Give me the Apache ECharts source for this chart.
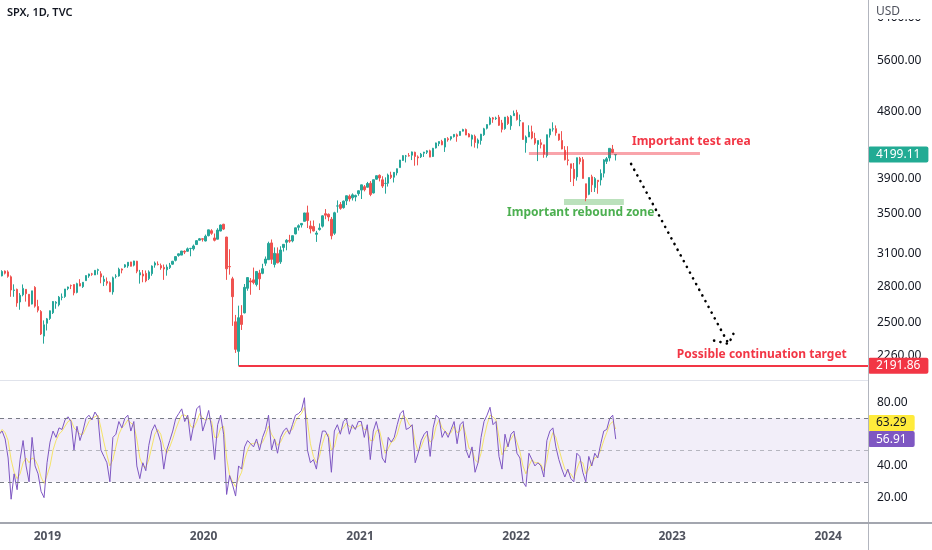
<!DOCTYPE html>
<html>
<head>
<meta charset="utf-8">
<title>SPX, 1D, TVC</title>
<script src="https://cdn.jsdelivr.net/npm/echarts@6/dist/echarts.min.js"></script>
<style>
  html, body { margin: 0; padding: 0; background: #ffffff; }
  #main { width: 932px; height: 550px; }
</style>
</head>
<body>
<div id="main"></div>
<script>
// weekly bars of SPX [open, high, low, close], first week starts monday 2018-09-10
var ohlc2018 = [
  [2871,2909,2864,2904],[2890,2941,2886,2930],[2933,2939,2903,2914],[2926,2940,2874,2886],
  [2882,2894,2710,2767],[2763,2816,2710,2768],[2773,2779,2628,2659],[2667,2741,2604,2723],
  [2727,2815,2714,2781],[2773,2775,2670,2736],[2731,2732,2631,2633],[2650,2760,2647,2760],
  [2790,2800,2621,2633],[2630,2685,2583,2600],[2590,2601,2409,2417],[2401,2520,2346,2486],
  [2498,2539,2443,2532]
];
var ohlc2019 = [
  [2535,2598,2524,2596],[2580,2675,2570,2671],[2657,2674,2612,2665],[2644,2717,2631,2707],
  [2706,2738,2681,2708],[2712,2776,2701,2776],[2780,2796,2766,2793],[2805,2814,2775,2804],
  [2814,2816,2722,2743],[2747,2830,2739,2822],[2823,2861,2800,2801],[2796,2836,2785,2834],
  [2848,2894,2848,2893],[2889,2910,2873,2907],[2908,2917,2891,2905],[2898,2940,2898,2940],[2940,2955,2901,2946],
  [2909,2932,2825,2881],[2841,2892,2801,2860],[2841,2876,2805,2826],[2830,2841,2750,2752],
  [2751,2884,2728,2873],[2886,2905,2868,2887],[2889,2964,2883,2950],[2952,2957,2913,2942],
  [2971,2996,2963,2990],[2980,3014,2963,3014],[3017,3018,2976,2977],[2987,3028,2976,3026],[3024,3027,2914,2932],
  [2898,2944,2822,2919],[2907,2943,2834,2889],[2913,2939,2834,2847],[2866,2940,2853,2926],
  [2910,2985,2891,2979],[2988,3021,2964,3007],[2996,3022,2985,2992],[2983,3002,2945,2962],[2967,2993,2855,2952],
  [2945,2993,2892,2970],[2965,3008,2952,2986],[2996,3027,2991,3023],[3032,3067,3022,3067],
  [3078,3097,3066,3093],[3081,3121,3081,3120],[3118,3127,3091,3110],[3118,3154,3115,3141],
  [3144,3150,3070,3146],[3141,3183,3125,3169],[3183,3226,3183,3221],[3226,3248,3223,3240],[3240,3246,3212,3235]
];
var ohlc2020 = [
  [3218,3282,3214,3265],[3271,3329,3264,3330],[3321,3337,3280,3295],[3248,3293,3214,3225],
  [3236,3347,3234,3328],[3318,3385,3316,3380],[3388,3393,3328,3338],[3257,3260,2855,2954],
  [2975,3137,2901,2972],[2864,2882,2478,2711],[2509,2563,2280,2305],[2291,2637,2191.86,2541],[2558,2641,2447,2489],
  [2579,2819,2575,2790],[2782,2880,2761,2875],[2846,2871,2727,2837],[2855,2965,2816,2831],
  [2815,2932,2798,2930],[2915,2945,2767,2864],[2913,3000,2905,2955],[3005,3068,2981,3044],
  [3038,3211,3038,3194],[3199,3233,2999,3041],[2994,3155,2966,3098],[3095,3155,3004,3009],[3018,3166,2999,3130],
  [3155,3186,3115,3185],[3205,3236,3127,3225],[3224,3280,3200,3216],[3219,3272,3205,3271],
  [3289,3352,3284,3351],[3356,3387,3323,3373],[3381,3399,3354,3397],[3419,3509,3419,3508],[3509,3588,3349,3427],
  [3371,3425,3294,3341],[3364,3428,3313,3319],[3285,3320,3209,3298],[3333,3397,3323,3348],
  [3368,3482,3354,3477],[3500,3550,3441,3484],[3494,3502,3420,3465],[3441,3465,3234,3270],
  [3296,3521,3279,3510],[3583,3646,3511,3585],[3600,3628,3543,3558],[3566,3644,3555,3638],[3641,3700,3594,3699],
  [3694,3713,3633,3663],[3675,3726,3645,3709],[3685,3711,3636,3703],[3723,3760,3699,3756]
];
var ohlc2021 = [
  [3764,3827,3662,3825],[3803,3823,3749,3768],[3797,3860,3794,3841],[3844,3870,3694,3714],
  [3731,3887,3725,3886],[3892,3937,3885,3934],[3939,3950,3866,3907],[3885,3928,3789,3811],
  [3842,3914,3723,3842],[3844,3960,3805,3943],[3942,3983,3894,3913],[3916,3978,3853,3975],[3969,4021,3938,4020],
  [4034,4130,4034,4129],[4124,4191,4118,4185],[4179,4194,4098,4180],[4185,4218,4173,4181],
  [4191,4238,4128,4233],[4229,4236,4057,4174],[4169,4188,4062,4156],[4170,4220,4155,4204],[4217,4234,4168,4230],
  [4229,4255,4206,4247],[4248,4262,4165,4166],[4174,4286,4167,4281],[4285,4356,4278,4352],
  [4343,4372,4309,4370],[4373,4394,4322,4327],[4297,4415,4233,4412],[4409,4430,4369,4395],
  [4406,4441,4384,4437],[4437,4469,4425,4468],[4462,4480,4368,4442],[4454,4510,4450,4509],[4513,4546,4509,4535],
  [4535,4549,4458,4459],[4474,4487,4429,4433],[4403,4466,4306,4455],[4442,4465,4289,4357],
  [4348,4412,4279,4391],[4385,4475,4329,4471],[4463,4559,4447,4545],[4553,4608,4537,4605],
  [4610,4718,4595,4697],[4701,4714,4630,4683],[4689,4718,4672,4698],[4712,4744,4586,4595],[4628,4672,4495,4538],
  [4548,4713,4532,4712],[4710,4731,4600,4620],[4588,4740,4531,4725],[4733,4808,4733,4766]
];
var ohlc2022 = [
  [4778,4819,4662,4677],[4655,4749,4582,4663],[4632,4632,4395,4398],[4356,4453,4223,4432],[4432,4595,4431,4500],
  [4505,4590,4401,4419],[4412,4490,4327,4349],[4332,4385,4115,4385],[4354,4402,4279,4329],
  [4327,4327,4157,4204],[4188,4465,4161,4463],[4462,4546,4424,4543],[4541,4637,4507,4546],
  [4547,4593,4450,4488],[4474,4474,4381,4393],[4385,4513,4267,4272],[4256,4309,4124,4132],
  [4131,4308,4062,4123],[4081,4081,3859,4024],[4013,4091,3811,3901],[3920,4160,3875,4158],[4152,4169,4074,4109],
  [4134,4168,3900,3901],[3838,3838,3637,3675],[3715,3913,3705,3912],[3921,3946,3741,3825],
  [3793,3918,3742,3899],[3880,3880,3722,3863],[3883,4012,3818,3962],[3965,4140,3913,4130],
  [4112,4167,4079,4145],[4155,4280,4112,4280],[4269,4325,4218,4228],[4195,4203,4123,4199.11]
];

// RSI(14) and its moving average, one reading per week
var rsi2018 = [60,62,57,45,19,35,25,44,56,40,30,58,40,35,24,20,42];
var rsi2019 = [55,62,58,64, 63,69,71,68, 50,65,56,62, 70,72,69,74,71, 50,46,42,30, 58,60,68,64,
  70,72,62,68,40, 32,42,37,53, 62,66,61,55,38, 50,56,62,70, 73,76,68,72, 56,66,76,78,62];
var rsi2020 = [68,75,64,44, 66,72,60,22, 34,28,21,40,38, 52,56,54,52, 57,50,58,63, 72,50,57,48,58,
  62,64,60,66, 72,73,75,83,50, 42,44,38,52, 62,62,58,36, 62,66,60,68,70, 60,66,63,68];
var rsi2021 = [68,58,66,44, 62,68,60,45, 42,58,55,58,66, 73,75,63,64, 66,42,48,56,60, 62,46,64,72,
  70,58,62,58, 63,68,54,66,68, 50,45,52,36, 42,58,68,72, 77,66,68,46,38, 60,52,60,62];
var rsi2022 = [48,45,30,27,48, 44,40,42,40, 33,56,62,64, 52,44,38,33, 38,32,30,48,46, 36,30,46,40,
  48,45,54,62, 63,70,72,56.91];

var ma2018 = [60,63,61,56,44,36,32,35,42,45,42,45,44,40,33,29,34];
var ma2019 = [40,50,56,60, 62,65,68,69, 64,62,60,60, 64,68,70,71,72, 64,55,47,40, 44,52,60,64,
  66,69,67,66,57, 45,40,39,44, 52,60,63,60,52, 48,52,57,63, 68,72,72,71, 65,64,68,73,70];
var ma2020 = [69,70,68,58, 58,64,65,45, 34,30,27,32,36, 44,50,54,54, 55,53,55,59, 65,60,57,53,55,
  59,62,62,63, 68,71,73,77,68, 54,46,42,46, 54,60,60,50, 52,60,62,64,67, 65,64,64,65];
var ma2021 = [66,63,63,56, 56,62,63,55, 48,51,55,56,60, 67,72,70,66, 65,55,49,52,57, 60,55,57,65,
  69,64,62,60, 61,65,61,62,66, 59,51,50,44, 42,48,58,66, 72,71,69,58,47, 50,54,57,60];
var ma2022 = [55,49,40,35,40, 44,42,42,41, 37,44,55,61, 58,51,44,38, 36,35,32,38,43, 42,35,38,42,
  45,46,50,56, 61,66,68,63.29];

// axes
var xRange = ['2018-09-12', '2024-04-03'];
var yearTicks = ['2019-01-01', '2020-01-01', '2021-01-01', '2022-01-01', '2023-01-01', '2024-01-01'];
var priceRange = [2097.6, 6757.5];
var priceTicks = [2260, 2500, 2800, 3100, 3500, 3900, 4200, 4800, 5600, 6400];
var rsiRange = [4, 94.2];
var rsiTicks = [20, 40, 60, 80];
var rsiLevels = [70, 50, 30];

// drawings on the price pane, [date, price]
var lastPrice = 4199.11;
var lastRsi = 56.91;
var lastRsiMa = 63.29;
var targetLine = [['2020-03-23', 2191.86], [xRange[1], 2191.86]];
var testLine = [['2022-01-31', 4222], ['2023-03-07', 4222]];
var reboundZone = [['2022-04-23', 3663], ['2022-09-10', 3596]];
var arrowPath = [['2022-09-27', 4079], ['2023-05-13', 2344]];
var arrowHead = [['2023-04-09', 2368], ['2023-05-13', 2344], ['2023-05-27', 2437]];
var notes = [
  ['Important test area', '2022-09-29', 4365, '#f23645'],
  ['Important rebound zone', '2021-12-11', 3508, '#4caf50'],
  ['Possible continuation target', '2023-01-12', 2271, '#f23645']
];

var upColor = '#26a69a';
var downColor = '#ef5350';
var font = 'Noto Sans';

function day(s) {
  var p = s.split('-');
  return new Date(+p[0], +p[1] - 1, +p[2]).getTime();
}
function weekOf(i) {
  return new Date(2018, 8, 10 + 7 * i).getTime();
}
var ln = Math.log;
function pt(d) { return [day(d[0]), ln(d[1])]; }

var bars = [].concat(ohlc2018, ohlc2019, ohlc2020, ohlc2021, ohlc2022);
var rsi = [].concat(rsi2018, rsi2019, rsi2020, rsi2021, rsi2022);
var rsiMa = [].concat(ma2018, ma2019, ma2020, ma2021, ma2022);

var candleData = bars.map(function (b, i) {
  return [weekOf(i), ln(b[0]), ln(b[3]), ln(b[2]), ln(b[1])];
});
var rsiData = rsi.map(function (v, i) { return [weekOf(i), v]; });
var maData = rsiMa.map(function (v, i) { return [weekOf(i), v]; });

function badge(text, bg, fg, dy) {
  return {
    show: true, position: 'right', distance: 0, offset: [0, dy || 0],
    formatter: text, backgroundColor: bg, color: fg, borderRadius: 2,
    padding: [2, 8, 1, 8], fontSize: 12, lineHeight: 13, fontFamily: font
  };
}

var noteMarks = notes.map(function (n) {
  return {
    coord: [day(n[1]), ln(n[2])],
    label: { show: true, position: 'right', distance: 0, formatter: n[0], color: n[3],
      fontWeight: 'bold', fontSize: 12, fontFamily: font }
  };
});
noteMarks.push({ coord: [day(xRange[1]), ln(lastPrice)], label: badge(lastPrice.toFixed(2), '#22ab94', '#ffffff') });
noteMarks.push({ coord: [day(xRange[1]), ln(2191.86)], label: badge('2191.86', '#f23645', '#ffffff') });

var dotted = { color: '#000000', width: 2.6, type: [0.1, 6.4], cap: 'round' };

var chart = echarts.init(document.getElementById('main'));
var option = {
  animation: false,
  backgroundColor: '#ffffff',
  textStyle: { fontFamily: font },
  grid: [
    { left: 0, right: 64, top: 0, height: 380, outerBoundsMode: 'none' },
    { left: 0, right: 64, top: 380, height: 143, outerBoundsMode: 'none' }
  ],
  xAxis: [
    { type: 'value', gridIndex: 0, min: day(xRange[0]), max: day(xRange[1]),
      axisLine: { show: false }, axisTick: { show: false }, axisLabel: { show: false }, splitLine: { show: false } },
    { type: 'value', gridIndex: 1, min: day(xRange[0]), max: day(xRange[1]),
      axisLine: { show: false }, axisTick: { show: false }, splitLine: { show: false },
      axisLabel: {
        customValues: yearTicks.map(day), margin: 8, color: '#50535e', fontSize: 12, fontWeight: 'bold',
        formatter: function (v) { return String(new Date(v).getFullYear()); }
      } }
  ],
  yAxis: [
    { type: 'value', gridIndex: 0, position: 'right', min: ln(priceRange[0]), max: ln(priceRange[1]),
      axisLine: { show: false }, axisTick: { show: false }, splitLine: { show: false },
      axisLabel: {
        customValues: priceTicks.map(function (p) { return ln(p); }), margin: 9, color: '#131722', fontSize: 12,
        formatter: function (v) { return Math.exp(v).toFixed(2); }
      } },
    { type: 'value', gridIndex: 1, position: 'right', min: rsiRange[0], max: rsiRange[1],
      axisLine: { show: false }, axisTick: { show: false }, splitLine: { show: false },
      axisLabel: {
        customValues: rsiTicks, margin: 9, color: '#131722', fontSize: 12,
        formatter: function (v) { return v.toFixed(2); }
      } }
  ],
  series: [
    {
      name: 'SPX', type: 'candlestick', xAxisIndex: 0, yAxisIndex: 0,
      data: candleData, barWidth: 2,
      itemStyle: { color: upColor, color0: downColor, borderColor: upColor, borderColor0: downColor, borderWidth: 1 }
    },
    {
      name: 'arrow', type: 'line', xAxisIndex: 0, yAxisIndex: 0,
      data: arrowPath.map(pt), symbol: 'none', lineStyle: dotted, z: 5,
      markLine: {
        silent: true, symbol: 'none', label: { show: false },
        data: [
          [{ coord: pt(targetLine[0]) }, { coord: pt(targetLine[1]) }],
          [{ coord: pt(testLine[0]), lineStyle: { color: 'rgba(242,54,69,0.45)', width: 3, type: 'solid' } },
           { coord: pt(testLine[1]) }]
        ],
        lineStyle: { color: '#f23645', width: 2, type: 'solid' }
      },
      markArea: {
        silent: true,
        itemStyle: { color: 'rgba(76,175,80,0.38)' },
        data: [[{ coord: pt(reboundZone[0]) }, { coord: pt(reboundZone[1]) }]]
      },
      markPoint: {
        silent: true, symbol: 'circle', symbolSize: 0,
        data: noteMarks
      }
    },
    {
      name: 'arrowHead', type: 'line', xAxisIndex: 0, yAxisIndex: 0,
      data: arrowHead.map(pt), symbol: 'none', lineStyle: dotted, z: 5
    },
    {
      name: 'RSI', type: 'line', xAxisIndex: 1, yAxisIndex: 1,
      data: rsiData, symbol: 'none', z: 4,
      lineStyle: { color: '#7e57c2', width: 1 },
      markArea: {
        silent: true,
        itemStyle: { color: 'rgba(126,87,194,0.1)' },
        data: [[{ yAxis: rsiLevels[2] }, { yAxis: rsiLevels[0] }]]
      },
      markLine: {
        silent: true, symbol: 'none', label: { show: false },
        lineStyle: { color: '#787b86', width: 1, type: [4, 4] },
        data: [
          { yAxis: rsiLevels[0] },
          { yAxis: rsiLevels[1], lineStyle: { color: 'rgba(120,123,134,0.5)', width: 1, type: [4, 4] } },
          { yAxis: rsiLevels[2] }
        ]
      },
      markPoint: {
        silent: true, symbol: 'circle', symbolSize: 0,
        data: [{ coord: [day(xRange[1]), lastRsi], label: badge(lastRsi.toFixed(2), '#7e57c2', '#ffffff') }]
      }
    },
    {
      name: 'RSI MA', type: 'line', xAxisIndex: 1, yAxisIndex: 1,
      data: maData, symbol: 'none', z: 3,
      lineStyle: { color: 'rgba(245,225,80,0.85)', width: 1 },
      markPoint: {
        silent: true, symbol: 'circle', symbolSize: 0,
        data: [{ coord: [day(xRange[1]), lastRsiMa], label: badge(lastRsiMa.toFixed(2), '#ffeb3b', '#131722', -6) }]
      }
    }
  ],
  graphic: [
    { type: 'line', z: 50, shape: { x1: 868.5, y1: 0, x2: 868.5, y2: 550 }, style: { stroke: '#b2b5be', lineWidth: 1 } },
    { type: 'line', z: 50, shape: { x1: 0, y1: 380.5, x2: 868, y2: 380.5 }, style: { stroke: '#e0e3eb', lineWidth: 1 } },
    { type: 'line', z: 50, shape: { x1: 0, y1: 523, x2: 932, y2: 523 }, style: { stroke: '#a3a6af', lineWidth: 2 } },
    { type: 'rect', z: 60, shape: { x: 869, y: 0, width: 63, height: 19 }, style: { fill: '#ffffff' } },
    { type: 'text', z: 61, x: 876, y: 12, style: { text: 'USD', fill: '#50535e', font: '12px "Noto Sans"', verticalAlign: 'middle' } },
    { type: 'text', z: 61, x: 7, y: 13, style: { text: 'SPX, 1D, TVC', fill: '#131722', font: '600 11px "Noto Sans"', verticalAlign: 'middle' } }
  ]
};
chart.setOption(option);
</script>
</body>
</html>
